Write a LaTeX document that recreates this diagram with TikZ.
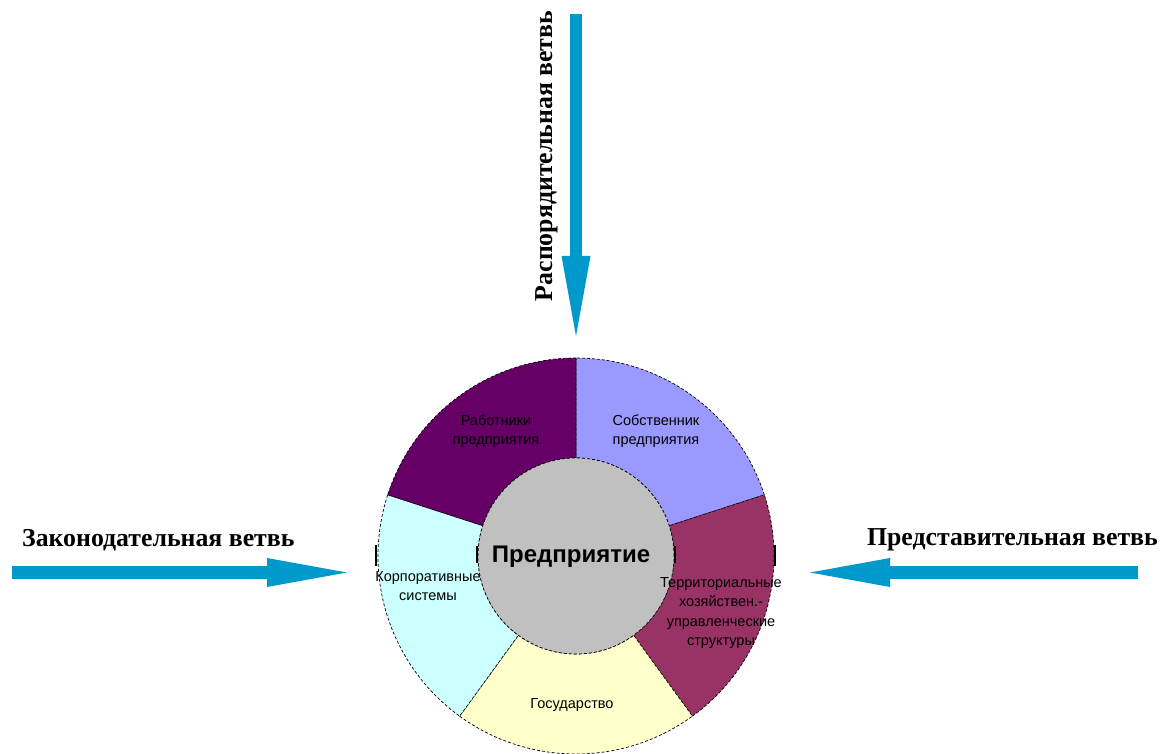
\documentclass[tikz,border=0pt]{standalone}
\usepackage{fontspec}
\setmainfont{Liberation Serif}
\newfontfamily\segfont{Liberation Sans}
\usetikzlibrary{arrows.meta}
\definecolor{arrowblue}{HTML}{0099CC}
\definecolor{segA}{HTML}{660066}
\definecolor{segB}{HTML}{9999FF}
\definecolor{segC}{HTML}{993366}
\definecolor{segD}{HTML}{FFFFCC}
\definecolor{segE}{HTML}{CCFFFF}
\definecolor{hubgrey}{HTML}{C0C0C0}
\tikzset{
  x=1pt, y=1pt,
  bigarrow/.style={draw=arrowblue, line width=12.5pt, -{Triangle[length=80pt,width=29pt,line width=0pt]}},
  branchlabel/.style={font=\fontsize{25.8}{30}\selectfont\bfseries, text=black, inner sep=0pt},
  seglabel/.style={font=\segfont\fontsize{14.5}{19.5}\selectfont, align=center, text=black, inner sep=0pt},
  segline/.style={draw=black, densely dashed, line width=0.7pt},
  tick/.style={draw=black, line width=1.2pt}
}
\newcommand{\sector}[3]{% color, start, end
  \filldraw[fill=#1, segline]
    ([shift={(576,197)}]#2:198) arc[start angle=#2, end angle=#3, radius=198]
    -- ([shift={(576,197)}]#3:98) arc[start angle=#3, end angle=#2, radius=98] -- cycle;
}
\begin{document}
\begin{tikzpicture}
\useasboundingbox (0,0) rectangle (1160,753);
% donut sectors
\sector{segB}{18}{90}
\sector{segC}{-54}{18}
\sector{segD}{-126}{-54}
\sector{segE}{162}{234}
\sector{segA}{90}{162}
% hub
\node[circle, fill=hubgrey, segline, minimum size=196pt, inner sep=0pt] (hub) at (576,197) {};
% small ticks
\draw[tick] (376,187) -- (376,208);
\draw[tick] (775,187) -- (775,208);
\draw[tick] (477,190) -- (477,207);
\draw[tick] (675,190) -- (675,207);
\node[font=\segfont\bfseries\fontsize{24}{28}\selectfont, inner sep=0pt] (hubtext) at (571,196) {Предприятие};
% segment labels
\node[seglabel] (workers) at (496,322) {Работники\\предприятия};
\node[seglabel] (owners) at (656,322) {Собственник\\предприятия};
\node[seglabel] (corp) at (428,167) {Корпоративные\\системы};
\node[seglabel] (terr) at (721,140) {Территориальные\\хозяйствен.-\\управленческие\\структуры};
\node[seglabel] (state) at (572,48) {Государство};
% arrows
\coordinate (topstart) at (576,739);
\coordinate (toptip) at (576,417);
\coordinate (leftstart) at (12,180.5);
\coordinate (lefttip) at (347,180.5);
\coordinate (rightstart) at (1138,180.5);
\coordinate (righttip) at (810,180.5);
\draw[bigarrow] (topstart) -- (toptip);
\draw[bigarrow] (leftstart) -- (lefttip);
\draw[bigarrow] (rightstart) -- (righttip);
% branch labels
\node[branchlabel, rotate=90] (exec) at (547,597) {Распорядительная ветвь};
\node[branchlabel, anchor=west] (legis) at (22,213) {Законодательная ветвь};
\node[branchlabel, anchor=east] (repr) at (1158,213) {Представительная ветвь};
\end{tikzpicture}
\end{document}
